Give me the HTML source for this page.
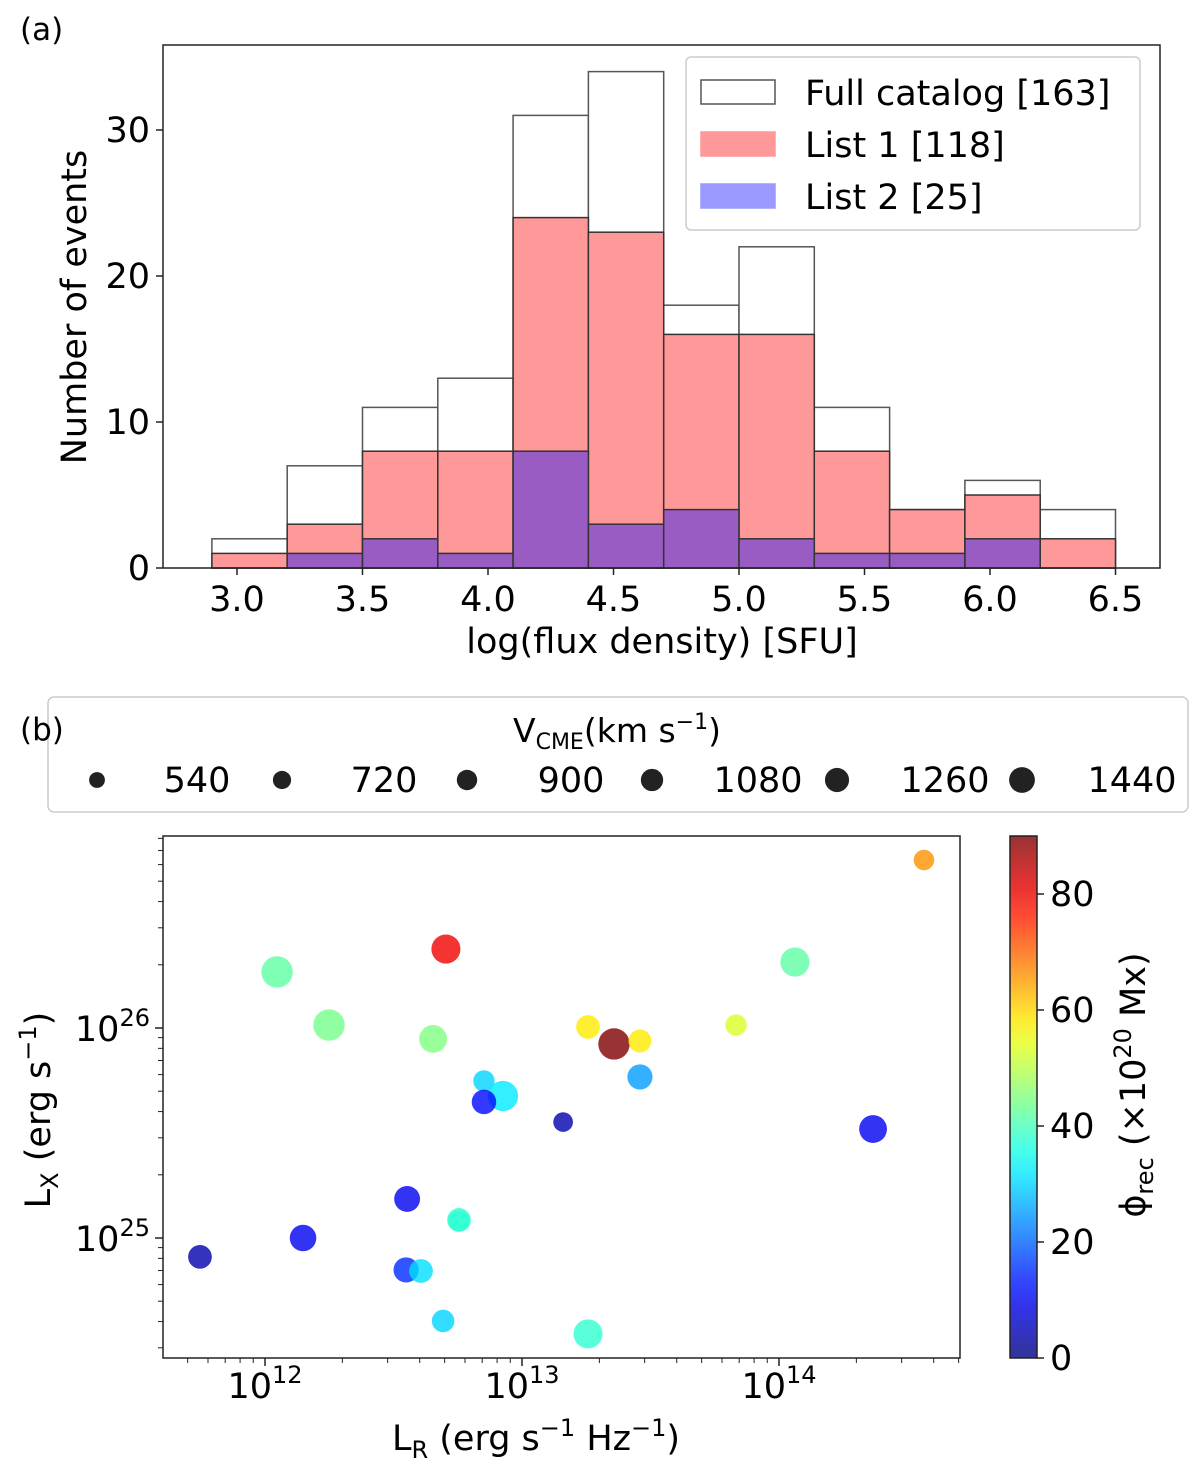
<!DOCTYPE html>
<html><head><meta charset="utf-8"><style>
body{margin:0;background:#fff}
svg text{font-family:"DejaVu Sans","Liberation Sans",sans-serif;fill:#000}
</style></head><body>
<svg id="s" width="1200" height="1467" viewBox="0 0 1200 1467" xmlns="http://www.w3.org/2000/svg">
<defs><linearGradient id="jetg" x1="0" y1="1" x2="0" y2="0"></linearGradient></defs>
<g id="ha"></g>
<g id="hb"></g>
</svg>
<script>
// ---- histogram data ----
const binEdges=[2.9,3.2,3.5,3.8,4.1,4.4,4.7,5.0,5.3,5.6,5.9,6.2,6.5];
const fullCounts=[2,7,11,13,31,34,18,22,11,4,6,4];
const list1Counts=[1,3,8,8,24,23,16,16,8,4,5,2];
const list2Counts=[0,1,2,1,8,3,4,2,1,1,2,0];
const xTicksA=[3.0,3.5,4.0,4.5,5.0,5.5,6.0,6.5];
const yTicksA=[0,10,20,30];
// ---- scatter data ----
const logLR=[14.564,12.704,12.047,14.062,12.249,12.654,13.257,13.358,13.459,13.833,12.852,12.926,12.852,13.459,13.160,14.366,12.553,12.148,11.747,12.755,12.755,12.549,12.607,12.693,13.257];
const logLX=[26.80,26.376,26.267,26.314,26.014,25.948,26.005,25.924,25.938,26.014,25.748,25.676,25.648,25.767,25.552,25.519,25.186,25.0,24.910,25.081,25.086,24.848,24.843,24.605,24.543];
const phiRec=[66,80,42,42,44,45,58,90,58,53,30,32,12,25,4,10,10,10,4,36,38,15,31,30,38];
const vCME=[600,1200,1400,1200,1400,1100,800,1400,750,650,650,1300,850,900,550,1100,950,1000,800,650,800,900,800,720,1200];
const sizeLegendV=[540,720,900,1080,1260,1440];
const cbTicks=[0,20,40,60,80];

const NS='http://www.w3.org/2000/svg';
function mk(tag,attrs,parent,text){const e=document.createElementNS(NS,tag);for(const k in attrs)e.setAttribute(k,attrs[k]);if(text!==undefined)e.textContent=text;parent.appendChild(e);return e;}
const FS=35;

// ===== panel a =====
const A=document.getElementById('ha');
const xa=v=>237+(v-3.0)*251, ya=v=>568-v*14.6;
let t=mk('text',{x:20,y:40,'font-size':31},A,'(a)');

function bars(arr,fill,stroke,name){arr.forEach((c,i)=>{if(c<=0)return;const x0=xa(binEdges[i]),x1=xa(binEdges[i+1]);
 const r=mk('rect',{x:x0,y:ya(c),width:x1-x0,height:ya(0)-ya(c),fill:fill,stroke:stroke,'stroke-width':1.5},A);
 });}
bars(fullCounts,'#fff','#555','full-catalog');
bars(list1Counts,'#ff9999','#333','list1');
bars(list2Counts,'#995cc2','#333','list2');
let fr=mk('rect',{x:163,y:45,width:997,height:523,fill:'none',stroke:'#222','stroke-width':1.5},A);

xTicksA.forEach(v=>{mk('line',{x1:xa(v),x2:xa(v),y1:568,y2:575,stroke:'#222','stroke-width':1.5},A);
 const l=mk('text',{x:xa(v),y:611,'font-size':FS,'text-anchor':'middle'},A,v.toFixed(1));
 });
yTicksA.forEach(v=>{mk('line',{x1:156,x2:163,y1:ya(v),y2:ya(v),stroke:'#222','stroke-width':1.5},A);
 const l=mk('text',{x:150,y:ya(v)+12,'font-size':FS,'text-anchor':'end'},A,String(v));
 });
t=mk('text',{x:662,y:653,'font-size':FS,'text-anchor':'middle'},A,'log(flux density) [SFU]');

t=mk('text',{x:0,y:0,'font-size':FS,'text-anchor':'middle',transform:'translate(86,307) rotate(-90)'},A,'Number of events');

const lg=mk('g',{},A);
mk('rect',{x:686,y:57,width:454,height:173,rx:5,fill:'#fff',stroke:'#ccc','stroke-width':1.5},lg);
[['Full catalog [163]','#fff','#555'],['List 1 [118]','#ff9999','#ff9999'],['List 2 [25]','#9999ff','#9999ff']].forEach((e,i)=>{
 const y=80+i*52;const r=mk('rect',{x:701,y:y,width:74,height:24,fill:e[1],stroke:e[2],'stroke-width':1.5},lg);
 
 const l=mk('text',{x:805,y:y+25,'font-size':FS},lg,e[0]);
 });

// ===== panel b =====
const B=document.getElementById('hb');
function jet(t){const c=v=>Math.max(0,Math.min(1,v));return [c(1.5-Math.abs(4*t-3)),c(1.5-Math.abs(4*t-2)),c(1.5-Math.abs(4*t-1))].map(v=>Math.round(v*255));}
const rgb=a=>'rgb('+a.join(',')+')';
const xb=v=>265+(v-12)*257, yb=v=>1028-(v-26)*210;
const rv=v=>Math.sqrt(v)*0.42;
const sl=mk('g',{},B);
mk('rect',{x:48,y:697,width:1140,height:115,rx:6,fill:'#fff',stroke:'#ccc','stroke-width':1.5},sl);
t=mk('text',{x:20,y:740,'font-size':31},B,'(b)');

t=mk('text',{x:617,y:742,'font-size':FS-2,'text-anchor':'middle'},sl);
t.innerHTML='V<tspan font-size="22" dy="7">CME</tspan><tspan dy="-7">(km s</tspan><tspan font-size="22" dy="-13">−1</tspan><tspan dy="13">)</tspan>';

sizeLegendV.forEach((v,i)=>{const cx=97+i*185;
 const c=mk('circle',{cx:cx,cy:780,r:Math.sqrt(v)*0.34,fill:'#222'},sl);
 
 const l=mk('text',{x:cx+100+i*2,y:792,'font-size':FS,'text-anchor':'middle'},sl,String(v));
 });
// points
logLR.forEach((x,i)=>{const c=mk('circle',{cx:xb(x),cy:yb(logLX[i]),r:rv(vCME[i]),fill:rgb(jet(phiRec[i]/90)),'fill-opacity':0.8},B);
 });
fr=mk('rect',{x:163,y:836,width:797,height:522,fill:'none',stroke:'#222','stroke-width':1.5},B);

[12,13,14].forEach(d=>{mk('line',{x1:xb(d),x2:xb(d),y1:1358,y2:1366,stroke:'#222','stroke-width':1.5},B);
 const l=mk('text',{x:xb(d),y:1398,'font-size':FS,'text-anchor':'middle'},B);
 l.innerHTML='10<tspan font-size="24" dy="-15">'+d+'</tspan>';
 });
for(let d=11;d<=14;d++)for(let m=2;m<10;m++){const v=d+Math.log10(m);const px=xb(v);if(px<163||px>960)continue;
 mk('line',{x1:px,x2:px,y1:1358,y2:1363,stroke:'#222','stroke-width':1},B);}
[25,26].forEach(d=>{mk('line',{x1:155,x2:163,y1:yb(d),y2:yb(d),stroke:'#222','stroke-width':1.5},B);
 const l=mk('text',{x:150,y:yb(d)+13,'font-size':FS,'text-anchor':'end'},B);
 l.innerHTML='10<tspan font-size="24" dy="-15">'+d+'</tspan>';
 });
for(let d=24;d<=26;d++)for(let m=2;m<10;m++){const v=d+Math.log10(m);const py=yb(v);if(py<836||py>1358)continue;
 mk('line',{x1:158,x2:163,y1:py,y2:py,stroke:'#222','stroke-width':1},B);}
t=mk('text',{x:536,y:1450,'font-size':FS,'text-anchor':'middle'},B);
t.innerHTML='L<tspan font-size="24" dy="8">R</tspan><tspan dy="-8"> (erg s</tspan><tspan font-size="24" dy="-14">−1</tspan><tspan dy="14"> Hz</tspan><tspan font-size="24" dy="-14">−1</tspan><tspan dy="14">)</tspan>';

t=mk('text',{x:0,y:0,'font-size':FS,'text-anchor':'middle',transform:'translate(50,1110) rotate(-90)'},B);
t.innerHTML='L<tspan font-size="24" dy="8">X</tspan><tspan dy="-8"> (erg s</tspan><tspan font-size="24" dy="-14">−1</tspan><tspan dy="14">)</tspan>';

// colorbar
const g=document.getElementById('jetg');
for(let k=0;k<=20;k++){const c=jet(k/20);const w=c.map(v=>Math.round(v*0.8+255*0.2));mk('stop',{offset:(k/20),'stop-color':rgb(w)},g);}
const cb=mk('rect',{x:1010,y:836,width:27,height:522,fill:'url(#jetg)',stroke:'#222','stroke-width':1.5},B);

const yc=v=>1358-v*5.8;
cbTicks.forEach(v=>{mk('line',{x1:1037,x2:1044,y1:yc(v),y2:yc(v),stroke:'#222','stroke-width':1.5},B);
 const l=mk('text',{x:1050,y:yc(v)+12,'font-size':FS},B,String(v));
 });
t=mk('text',{x:0,y:0,'font-size':FS,'text-anchor':'middle',transform:'translate(1145,1085) rotate(-90)'},B);
t.innerHTML='ϕ<tspan font-size="24" dy="8">rec</tspan><tspan dy="-8"> (×10</tspan><tspan font-size="24" dy="-14">20</tspan><tspan dy="14"> Mx)</tspan>';

</script>
</body></html>
